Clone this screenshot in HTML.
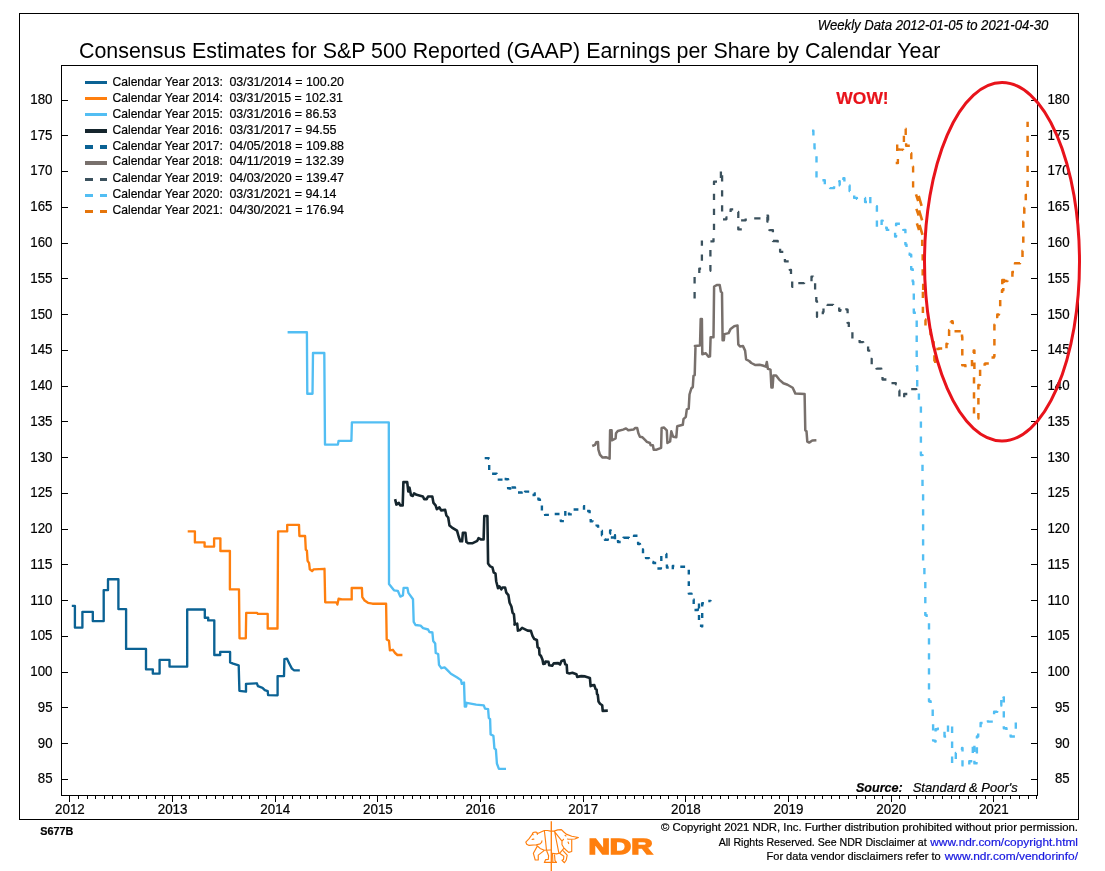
<!DOCTYPE html>
<html lang="en"><head><meta charset="utf-8"><title>Consensus Estimates for S&amp;P 500 Reported (GAAP) Earnings per Share by Calendar Year</title>
<style>html,body{margin:0;padding:0;background:#fff;}body{width:1105px;height:871px;overflow:hidden;}svg{display:block;}text{font-family:"Liberation Sans", sans-serif;fill:#000;stroke:#000;stroke-width:0.2px;}</style></head><body>
<svg width="1105" height="871" viewBox="0 0 1105 871">
<rect x="0" y="0" width="1105" height="871" fill="#ffffff"/>
<rect x="19.5" y="13.5" width="1059.0" height="806.0" fill="none" stroke="#000" stroke-width="1" shape-rendering="crispEdges"/>
<rect x="61.5" y="65.5" width="976.0" height="730.0" fill="none" stroke="#000" stroke-width="1" shape-rendering="crispEdges"/>
<path d="M62.0,779.5h6 M1037.0,779.5h-6 M62.0,743.5h6 M1037.0,743.5h-6 M62.0,707.5h6 M1037.0,707.5h-6 M62.0,672.5h6 M1037.0,672.5h-6 M62.0,636.5h6 M1037.0,636.5h-6 M62.0,600.5h6 M1037.0,600.5h-6 M62.0,564.5h6 M1037.0,564.5h-6 M62.0,529.5h6 M1037.0,529.5h-6 M62.0,493.5h6 M1037.0,493.5h-6 M62.0,457.5h6 M1037.0,457.5h-6 M62.0,421.5h6 M1037.0,421.5h-6 M62.0,386.5h6 M1037.0,386.5h-6 M62.0,350.5h6 M1037.0,350.5h-6 M62.0,314.5h6 M1037.0,314.5h-6 M62.0,278.5h6 M1037.0,278.5h-6 M62.0,243.5h6 M1037.0,243.5h-6 M62.0,207.5h6 M1037.0,207.5h-6 M62.0,171.5h6 M1037.0,171.5h-6 M62.0,135.5h6 M1037.0,135.5h-6 M62.0,100.5h6 M1037.0,100.5h-6" stroke="#000" stroke-width="1" fill="none" shape-rendering="crispEdges"/>
<g font-size="13.9px">
<text x="52.5" y="783.3" text-anchor="end" textLength="14.7" lengthAdjust="spacingAndGlyphs">85</text>
<text x="1069.6" y="783.3" text-anchor="end" textLength="14.7" lengthAdjust="spacingAndGlyphs">85</text>
<text x="52.5" y="747.5" text-anchor="end" textLength="14.7" lengthAdjust="spacingAndGlyphs">90</text>
<text x="1069.6" y="747.5" text-anchor="end" textLength="14.7" lengthAdjust="spacingAndGlyphs">90</text>
<text x="52.5" y="711.8" text-anchor="end" textLength="14.7" lengthAdjust="spacingAndGlyphs">95</text>
<text x="1069.6" y="711.8" text-anchor="end" textLength="14.7" lengthAdjust="spacingAndGlyphs">95</text>
<text x="52.5" y="676.0" text-anchor="end" textLength="22.2" lengthAdjust="spacingAndGlyphs">100</text>
<text x="1069.6" y="676.0" text-anchor="end" textLength="22.2" lengthAdjust="spacingAndGlyphs">100</text>
<text x="52.5" y="640.3" text-anchor="end" textLength="22.2" lengthAdjust="spacingAndGlyphs">105</text>
<text x="1069.6" y="640.3" text-anchor="end" textLength="22.2" lengthAdjust="spacingAndGlyphs">105</text>
<text x="52.5" y="604.5" text-anchor="end" textLength="22.2" lengthAdjust="spacingAndGlyphs">110</text>
<text x="1069.6" y="604.5" text-anchor="end" textLength="22.2" lengthAdjust="spacingAndGlyphs">110</text>
<text x="52.5" y="568.8" text-anchor="end" textLength="22.2" lengthAdjust="spacingAndGlyphs">115</text>
<text x="1069.6" y="568.8" text-anchor="end" textLength="22.2" lengthAdjust="spacingAndGlyphs">115</text>
<text x="52.5" y="533.0" text-anchor="end" textLength="22.2" lengthAdjust="spacingAndGlyphs">120</text>
<text x="1069.6" y="533.0" text-anchor="end" textLength="22.2" lengthAdjust="spacingAndGlyphs">120</text>
<text x="52.5" y="497.2" text-anchor="end" textLength="22.2" lengthAdjust="spacingAndGlyphs">125</text>
<text x="1069.6" y="497.2" text-anchor="end" textLength="22.2" lengthAdjust="spacingAndGlyphs">125</text>
<text x="52.5" y="461.5" text-anchor="end" textLength="22.2" lengthAdjust="spacingAndGlyphs">130</text>
<text x="1069.6" y="461.5" text-anchor="end" textLength="22.2" lengthAdjust="spacingAndGlyphs">130</text>
<text x="52.5" y="425.7" text-anchor="end" textLength="22.2" lengthAdjust="spacingAndGlyphs">135</text>
<text x="1069.6" y="425.7" text-anchor="end" textLength="22.2" lengthAdjust="spacingAndGlyphs">135</text>
<text x="52.5" y="390.0" text-anchor="end" textLength="22.2" lengthAdjust="spacingAndGlyphs">140</text>
<text x="1069.6" y="390.0" text-anchor="end" textLength="22.2" lengthAdjust="spacingAndGlyphs">140</text>
<text x="52.5" y="354.2" text-anchor="end" textLength="22.2" lengthAdjust="spacingAndGlyphs">145</text>
<text x="1069.6" y="354.2" text-anchor="end" textLength="22.2" lengthAdjust="spacingAndGlyphs">145</text>
<text x="52.5" y="318.5" text-anchor="end" textLength="22.2" lengthAdjust="spacingAndGlyphs">150</text>
<text x="1069.6" y="318.5" text-anchor="end" textLength="22.2" lengthAdjust="spacingAndGlyphs">150</text>
<text x="52.5" y="282.7" text-anchor="end" textLength="22.2" lengthAdjust="spacingAndGlyphs">155</text>
<text x="1069.6" y="282.7" text-anchor="end" textLength="22.2" lengthAdjust="spacingAndGlyphs">155</text>
<text x="52.5" y="246.9" text-anchor="end" textLength="22.2" lengthAdjust="spacingAndGlyphs">160</text>
<text x="1069.6" y="246.9" text-anchor="end" textLength="22.2" lengthAdjust="spacingAndGlyphs">160</text>
<text x="52.5" y="211.2" text-anchor="end" textLength="22.2" lengthAdjust="spacingAndGlyphs">165</text>
<text x="1069.6" y="211.2" text-anchor="end" textLength="22.2" lengthAdjust="spacingAndGlyphs">165</text>
<text x="52.5" y="175.4" text-anchor="end" textLength="22.2" lengthAdjust="spacingAndGlyphs">170</text>
<text x="1069.6" y="175.4" text-anchor="end" textLength="22.2" lengthAdjust="spacingAndGlyphs">170</text>
<text x="52.5" y="139.7" text-anchor="end" textLength="22.2" lengthAdjust="spacingAndGlyphs">175</text>
<text x="1069.6" y="139.7" text-anchor="end" textLength="22.2" lengthAdjust="spacingAndGlyphs">175</text>
<text x="52.5" y="103.9" text-anchor="end" textLength="22.2" lengthAdjust="spacingAndGlyphs">180</text>
<text x="1069.6" y="103.9" text-anchor="end" textLength="22.2" lengthAdjust="spacingAndGlyphs">180</text>
</g>
<path d="M69.5,796.0v6 M78.5,796.0v3 M87.5,796.0v3 M95.5,796.0v3 M104.5,796.0v3 M112.5,796.0v3 M121.5,796.0v3 M129.5,796.0v3 M138.5,796.0v3 M146.5,796.0v3 M155.5,796.0v3 M164.5,796.0v3 M172.5,796.0v6 M181.5,796.0v3 M189.5,796.0v3 M198.5,796.0v3 M206.5,796.0v3 M215.5,796.0v3 M223.5,796.0v3 M232.5,796.0v3 M241.5,796.0v3 M249.5,796.0v3 M258.5,796.0v3 M266.5,796.0v3 M275.5,796.0v6 M283.5,796.0v3 M292.5,796.0v3 M300.5,796.0v3 M309.5,796.0v3 M317.5,796.0v3 M326.5,796.0v3 M335.5,796.0v3 M343.5,796.0v3 M352.5,796.0v3 M360.5,796.0v3 M369.5,796.0v3 M377.5,796.0v6 M386.5,796.0v3 M394.5,796.0v3 M403.5,796.0v3 M412.5,796.0v3 M420.5,796.0v3 M429.5,796.0v3 M437.5,796.0v3 M446.5,796.0v3 M454.5,796.0v3 M463.5,796.0v3 M471.5,796.0v3 M480.5,796.0v6 M489.5,796.0v3 M497.5,796.0v3 M506.5,796.0v3 M514.5,796.0v3 M523.5,796.0v3 M531.5,796.0v3 M540.5,796.0v3 M548.5,796.0v3 M557.5,796.0v3 M566.5,796.0v3 M574.5,796.0v3 M583.5,796.0v6 M591.5,796.0v3 M600.5,796.0v3 M608.5,796.0v3 M617.5,796.0v3 M625.5,796.0v3 M634.5,796.0v3 M643.5,796.0v3 M651.5,796.0v3 M660.5,796.0v3 M668.5,796.0v3 M677.5,796.0v3 M685.5,796.0v6 M694.5,796.0v3 M702.5,796.0v3 M711.5,796.0v3 M720.5,796.0v3 M728.5,796.0v3 M737.5,796.0v3 M745.5,796.0v3 M754.5,796.0v3 M762.5,796.0v3 M771.5,796.0v3 M779.5,796.0v3 M788.5,796.0v6 M797.5,796.0v3 M805.5,796.0v3 M814.5,796.0v3 M822.5,796.0v3 M831.5,796.0v3 M839.5,796.0v3 M848.5,796.0v3 M856.5,796.0v3 M865.5,796.0v3 M874.5,796.0v3 M882.5,796.0v3 M891.5,796.0v6 M899.5,796.0v3 M908.5,796.0v3 M916.5,796.0v3 M925.5,796.0v3 M933.5,796.0v3 M942.5,796.0v3 M951.5,796.0v3 M959.5,796.0v3 M968.5,796.0v3 M976.5,796.0v3 M985.5,796.0v3 M993.5,796.0v6 M1002.5,796.0v3 M1010.5,796.0v3 M1019.5,796.0v3 M1028.5,796.0v3 M1036.5,796.0v3" stroke="#000" stroke-width="1" fill="none" shape-rendering="crispEdges"/>
<g font-size="13.9px" text-anchor="middle">
<text x="69.9" y="814.1" textLength="29.8" lengthAdjust="spacingAndGlyphs">2012</text>
<text x="172.6" y="814.1" textLength="29.8" lengthAdjust="spacingAndGlyphs">2013</text>
<text x="275.2" y="814.1" textLength="29.8" lengthAdjust="spacingAndGlyphs">2014</text>
<text x="377.9" y="814.1" textLength="29.8" lengthAdjust="spacingAndGlyphs">2015</text>
<text x="480.5" y="814.1" textLength="29.8" lengthAdjust="spacingAndGlyphs">2016</text>
<text x="583.2" y="814.1" textLength="29.8" lengthAdjust="spacingAndGlyphs">2017</text>
<text x="685.9" y="814.1" textLength="29.8" lengthAdjust="spacingAndGlyphs">2018</text>
<text x="788.5" y="814.1" textLength="29.8" lengthAdjust="spacingAndGlyphs">2019</text>
<text x="891.2" y="814.1" textLength="29.8" lengthAdjust="spacingAndGlyphs">2020</text>
<text x="993.8" y="814.1" textLength="29.8" lengthAdjust="spacingAndGlyphs">2021</text>
</g>
<text x="79" y="57.8" font-size="22.8px" style="stroke-width:0" textLength="861.5" lengthAdjust="spacingAndGlyphs">Consensus Estimates for S&amp;P 500 Reported (GAAP) Earnings per Share by Calendar Year</text>
<text x="817.8" y="30.4" font-size="14px" font-style="italic" textLength="230.5" lengthAdjust="spacingAndGlyphs">Weekly Data 2012-01-05 to 2021-04-30</text>
<g font-size="12.8px">
<path d="M85,82.5h22" stroke="#0b6294" stroke-width="3" fill="none" shape-rendering="crispEdges"/>
<text x="112.5" y="85.8" textLength="110.3" lengthAdjust="spacingAndGlyphs">Calendar Year 2013:</text>
<text x="229.4" y="85.8" textLength="114.6" lengthAdjust="spacingAndGlyphs">03/31/2014 = 100.20</text>
<path d="M85,98.5h22" stroke="#ff7f0e" stroke-width="3" fill="none" shape-rendering="crispEdges"/>
<text x="112.5" y="101.8" textLength="110.3" lengthAdjust="spacingAndGlyphs">Calendar Year 2014:</text>
<text x="229.4" y="101.8" textLength="113.6" lengthAdjust="spacingAndGlyphs">03/31/2015 = 102.31</text>
<path d="M85,114.5h22" stroke="#52bef3" stroke-width="3" fill="none" shape-rendering="crispEdges"/>
<text x="112.5" y="117.8" textLength="110.3" lengthAdjust="spacingAndGlyphs">Calendar Year 2015:</text>
<text x="229.4" y="117.8" textLength="107.1" lengthAdjust="spacingAndGlyphs">03/31/2016 = 86.53</text>
<path d="M85,131.0h22" stroke="#15252d" stroke-width="4" fill="none" shape-rendering="crispEdges"/>
<text x="112.5" y="133.6" textLength="110.3" lengthAdjust="spacingAndGlyphs">Calendar Year 2016:</text>
<text x="229.4" y="133.6" textLength="107.1" lengthAdjust="spacingAndGlyphs">03/31/2017 = 94.55</text>
<path d="M85,147.0h8 M100,147.0h7" stroke="#0b6294" stroke-width="4" fill="none" shape-rendering="crispEdges"/>
<text x="112.5" y="149.5" textLength="110.3" lengthAdjust="spacingAndGlyphs">Calendar Year 2017:</text>
<text x="229.4" y="149.5" textLength="114.6" lengthAdjust="spacingAndGlyphs">04/05/2018 = 109.88</text>
<path d="M85,163.0h22" stroke="#78706c" stroke-width="4" fill="none" shape-rendering="crispEdges"/>
<text x="112.5" y="165.4" textLength="110.3" lengthAdjust="spacingAndGlyphs">Calendar Year 2018:</text>
<text x="229.4" y="165.4" textLength="114.6" lengthAdjust="spacingAndGlyphs">04/11/2019 = 132.39</text>
<path d="M85,179.5h8 M100,179.5h7" stroke="#3b515d" stroke-width="3" fill="none" shape-rendering="crispEdges"/>
<text x="112.5" y="182.2" textLength="110.3" lengthAdjust="spacingAndGlyphs">Calendar Year 2019:</text>
<text x="229.4" y="182.2" textLength="114.6" lengthAdjust="spacingAndGlyphs">04/03/2020 = 139.47</text>
<path d="M85,195.5h8 M100,195.5h7" stroke="#52bef3" stroke-width="3" fill="none" shape-rendering="crispEdges"/>
<text x="112.5" y="198.2" textLength="110.3" lengthAdjust="spacingAndGlyphs">Calendar Year 2020:</text>
<text x="229.4" y="198.2" textLength="107.1" lengthAdjust="spacingAndGlyphs">03/31/2021 = 94.14</text>
<path d="M85,211.5h8 M100,211.5h7" stroke="#e5750b" stroke-width="3" fill="none" shape-rendering="crispEdges"/>
<text x="112.5" y="214.2" textLength="110.3" lengthAdjust="spacingAndGlyphs">Calendar Year 2021:</text>
<text x="229.4" y="214.2" textLength="114.6" lengthAdjust="spacingAndGlyphs">04/30/2021 = 176.94</text>
</g>
<path d="M71.8,605.9 L74.9,605.9 L74.9,627.6 L82.4,627.6 L82.4,611.8 L92.8,611.8 L92.8,621.1 L103.7,621.1 L103.7,590.1 L108.0,590.1 L108.0,579.2 L118.4,579.2 L118.4,609.1 L126.1,609.1 L126.1,648.9 L146.0,648.9 L146.0,669.3 L152.8,669.3 L152.8,673.6 L159.6,673.6 L159.6,659.8 L169.5,659.8 L169.5,666.6 L187.2,666.6 L187.2,609.5 L204.8,609.5 L204.8,617.7 L208.2,617.7 L208.2,620.4 L214.3,620.4 L214.3,655.0 L220.2,655.0 L220.2,651.9 L230.1,651.9 L230.1,662.3 L233.1,663.6 L238.7,665.4 L239.4,690.8 L246.0,691.7 L246.0,683.8 L256.8,683.3 L258.0,686.2 L262.5,687.8 L264.8,690.1 L267.7,691.2 L268.1,695.1 L277.6,695.3 L277.6,676.1 L284.0,676.1 L284.4,659.1 L286.9,658.6 L289.0,662.9 L291.9,668.6 L294.2,670.4 L299.8,670.4" fill="none" stroke="#0b6294" stroke-width="2.35" stroke-linejoin="round"/>
<path d="M187.7,531.3 L194.9,531.3 L194.9,542.4 L204.6,542.4 L204.6,546.6 L214.1,546.6 L214.1,538.3 L220.4,538.3 L220.4,551.0 L229.9,551.0 L229.9,589.4 L239.0,589.4 L239.5,638.3 L245.8,638.3 L246.2,612.9 L257.1,612.9 L257.8,613.9 L267.7,613.9 L267.7,628.5 L277.5,628.5 L278.1,531.3 L287.2,531.3 L287.2,524.9 L299.0,524.9 L299.4,536.0 L305.1,536.0 L305.8,549.6 L306.9,550.7 L307.6,560.9 L309.1,563.2 L309.8,569.3 L312.1,571.1 L313.7,569.3 L324.5,568.8 L325.2,602.3 L336.3,602.3 L337.4,604.6 L338.6,598.7 L341.9,599.4 L351.7,599.4 L351.7,588.0 L361.9,588.0 L362.3,597.1 L364.6,600.5 L368.0,602.8 L372.5,603.7 L386.1,603.7 L386.7,639.4 L389.0,640.8 L389.9,650.3 L392.9,649.8 L395.1,653.0 L397.4,655.0 L402.4,655.0" fill="none" stroke="#ff7f0e" stroke-width="2.35" stroke-linejoin="round"/>
<path d="M287.6,332.2 L306.9,332.2 L307.3,393.7 L312.5,393.7 L313.0,353.0 L324.3,353.0 L325.0,444.6 L337.9,444.6 L338.6,440.8 L351.4,440.8 L351.9,422.4 L388.8,422.4 L389.0,560.0 L389.0,584.0 L394.0,590.3 L397.8,590.8 L400.3,596.6 L402.9,595.4 L403.6,587.8 L407.4,587.8 L408.4,592.9 L413.0,599.2 L413.7,621.9 L415.5,625.0 L420.6,625.7 L423.1,628.2 L428.1,629.5 L429.4,632.0 L432.4,632.5 L433.2,640.9 L435.2,643.4 L435.7,653.0 L438.2,654.0 L439.0,664.9 L441.3,668.2 L444.6,667.4 L448.4,671.2 L450.9,673.8 L457.2,677.5 L461.0,680.1 L461.8,683.9 L464.0,682.6 L464.8,706.6 L466.1,706.6 L466.6,702.8 L476.2,704.6 L483.8,705.4 L485.0,708.6 L488.1,709.1 L488.8,718.0 L490.1,719.2 L490.6,734.4 L493.4,735.7 L494.4,748.3 L495.9,749.6 L496.9,763.5 L498.9,768.8 L506.0,768.8" fill="none" stroke="#52bef3" stroke-width="2.35" stroke-linejoin="round"/>
<path d="M395.1,499.1 L396.4,504.6 L398.9,502.9 L400.2,505.4 L402.7,505.4 L403.4,482.1 L407.2,482.1 L408.3,491.5 L409.5,487.7 L411.0,495.3 L412.8,496.0 L414.1,493.3 L416.6,494.8 L422.9,496.5 L424.2,499.1 L426.7,499.1 L428.0,496.5 L432.3,496.5 L433.5,502.9 L435.6,505.4 L436.8,509.2 L439.4,507.4 L441.1,510.4 L445.2,509.9 L446.4,515.5 L448.2,517.5 L449.5,525.6 L452.0,527.6 L457.0,530.7 L458.8,537.0 L460.3,541.3 L462.1,541.3 L462.9,532.7 L465.4,532.7 L466.4,542.0 L468.4,543.3 L472.2,543.3 L477.3,540.8 L478.5,538.2 L481.1,539.5 L483.6,539.5 L484.3,516.0 L487.4,516.0 L488.1,563.5 L489.9,566.1 L492.4,567.3 L493.7,572.4 L495.5,573.6 L496.2,581.2 L498.0,588.3 L499.3,586.3 L501.3,589.3 L502.5,587.5 L505.1,587.5 L506.3,592.6 L508.4,595.1 L509.6,602.7 L511.4,606.5 L512.6,612.8 L513.9,614.1 L514.7,622.9 L514.5,624.6 L517.2,623.6 L517.9,630.6 L520.1,629.9 L522.1,627.9 L524.6,629.1 L527.6,630.6 L530.9,630.9 L532.5,635.8 L534.3,639.1 L536.9,640.0 L537.6,647.0 L539.1,648.5 L539.5,654.5 L541.0,656.0 L542.5,659.7 L543.3,663.9 L545.1,663.4 L545.5,661.5 L548.5,661.9 L549.2,665.2 L552.2,665.7 L553.7,663.4 L558.2,663.1 L560.0,664.5 L561.5,660.9 L564.2,660.1 L565.2,664.2 L566.7,664.9 L567.2,672.8 L569.4,673.4 L572.4,672.8 L576.4,674.2 L577.2,676.9 L581.3,676.1 L585.1,676.4 L589.9,677.9 L590.6,686.1 L592.1,685.4 L594.3,685.1 L595.5,688.8 L596.6,689.5 L597.0,694.0 L597.8,694.8 L598.5,701.5 L600.0,703.7 L602.2,705.2 L602.7,710.9 L607.8,710.6" fill="none" stroke="#15252d" stroke-width="2.6" stroke-linejoin="round"/>
<path d="M592.2,446.0 L595.1,444.8 L596.2,442.2 L598.0,441.9 L598.4,449.7 L599.9,454.6 L602.6,457.6 L605.9,457.2 L609.6,458.7 L610.1,430.3 L611.6,430.3 L611.9,440.3 L615.6,438.5 L616.0,433.3 L617.8,431.0 L623.1,429.6 L626.0,428.4 L628.3,430.3 L633.5,429.6 L635.0,428.1 L637.2,428.1 L638.4,433.3 L639.9,436.7 L642.5,437.3 L645.5,440.3 L646.9,441.8 L649.9,443.0 L650.7,445.2 L652.9,445.2 L653.7,449.7 L656.6,449.7 L661.1,447.8 L661.6,428.1 L664.1,427.6 L666.8,430.3 L667.4,443.0 L670.1,441.5 L671.3,431.3 L673.1,436.7 L676.3,437.3 L677.2,426.3 L682.8,424.8 L683.5,419.1 L685.8,416.9 L686.8,409.4 L688.7,408.7 L689.5,394.5 L691.3,388.5 L692.8,387.0 L693.5,375.8 L694.7,375.1 L695.5,346.0 L694.9,346.1 L700.0,345.4 L700.7,319.0 L701.9,319.0 L702.3,354.3 L705.8,353.3 L708.5,356.8 L710.0,356.4 L710.6,337.2 L713.5,337.2 L714.1,286.5 L717.2,284.9 L719.7,284.9 L720.9,291.7 L722.0,292.7 L722.6,340.3 L723.8,340.3 L724.4,334.1 L728.6,333.1 L730.6,328.9 L734.2,326.2 L737.5,325.4 L738.3,344.4 L740.0,346.5 L743.0,346.1 L745.1,350.6 L746.1,359.3 L749.2,361.0 L751.3,363.0 L755.5,365.1 L759.6,364.7 L762.7,365.5 L765.8,366.7 L766.8,362.0 L767.9,368.8 L770.5,369.6 L771.4,387.4 L772.6,387.4 L773.4,375.4 L776.1,375.4 L779.2,379.6 L783.4,383.3 L787.5,384.7 L792.7,387.8 L795.4,393.6 L804.6,394.0 L805.3,430.2 L806.5,431.2 L807.3,441.6 L809.2,442.6 L812.3,440.5 L816.4,440.3" fill="none" stroke="#78706c" stroke-width="2.5" stroke-linejoin="round"/>
<path d="M484.7,458.1 L488.7,458.1 L488.7,458.7 L489.2,458.7 L489.2,471.1 L491.1,471.1 L491.1,473.7 L496.6,473.7 L496.6,476.3 L497.7,476.3 L497.7,479.6 L503.1,479.6 L503.1,481.6 L504.1,481.6 L504.1,479.0 L506.0,479.0 L506.0,479.3 L508.1,479.3 L508.1,488.3 L510.1,488.3 L510.1,491.3 L510.8,491.3 L510.8,487.5 L514.5,487.5 L515.0,487.5 L515.0,492.5 L521.6,492.5 L521.6,494.6 L525.0,494.6 L525.0,491.6 L531.0,491.6 L531.0,495.0 L534.7,495.0 L534.7,493.5 L538.4,493.5 L538.4,499.5 L539.9,499.5 L539.9,505.4 L541.9,505.4 L541.9,512.9 L545.1,512.9 L545.1,514.9 L552.6,514.9 L552.6,514.0 L557.1,514.0 L560.8,514.0 L560.8,521.1 L564.2,521.1 L564.2,518.1 L565.3,518.1 L565.3,510.2 L568.7,510.2 L569.0,510.2 L569.0,514.4 L573.5,514.4 L573.5,509.5 L579.5,509.5 L579.5,510.2 L584.0,510.2 L584.0,506.2 L585.5,506.2 L585.5,510.4 L586.9,510.4 L586.9,511.0 L589.6,511.0 L589.6,516.6 L590.7,516.6 L590.7,521.4 L592.9,521.4 L592.9,521.9 L596.6,521.9 L596.6,525.6 L598.1,525.6 L598.1,530.8 L601.9,530.8 L601.9,535.3 L602.6,535.3 L602.6,539.3 L604.9,539.3 L604.9,539.8 L607.8,539.8 L607.8,533.8 L610.1,533.8 L610.1,530.4 L610.8,530.4 L610.8,537.5 L614.5,537.5 L614.5,542.0 L615.0,542.0 L615.0,535.3 L618.0,535.3 L618.0,542.0 L623.5,542.0 L623.5,537.8 L628.0,537.8 L628.0,538.3 L623.6,538.3 L623.6,537.6 L628.8,537.6 L628.8,538.1 L633.3,538.1 L633.3,538.4 L634.0,538.4 L634.0,535.7 L637.8,535.7 L638.1,535.7 L638.1,544.0 L640.0,544.0 L640.0,549.5 L643.0,549.5 L643.0,553.6 L645.5,553.6 L645.5,554.0 L646.0,554.0 L646.0,558.1 L649.0,558.1 L649.0,561.9 L653.4,561.9 L653.4,563.0 L657.2,563.0 L657.2,568.5 L660.9,568.5 L660.9,565.2 L661.3,565.2 L661.3,554.5 L665.4,554.5 L665.4,554.0 L666.4,554.0 L666.4,561.5 L666.9,561.5 L666.9,567.5 L670.6,567.5 L670.6,569.7 L672.8,569.7 L672.8,566.0 L678.8,566.0 L678.8,566.7 L685.5,566.7 L688.8,566.7 L688.8,567.5 L688.8,593.6 L691.5,593.6 L691.5,599.5 L693.7,599.5 L693.7,610.0 L697.8,610.0 L697.8,603.3 L699.0,603.3 L699.0,625.7 L701.9,625.7 L701.9,626.4 L702.2,626.4 L702.2,603.3 L707.2,603.3 L707.2,601.0 L710.6,601.0 L710.6,601.3" fill="none" stroke="#0b6294" stroke-width="2.4" stroke-linejoin="round" stroke-dasharray="4.8 6.7"/>
<path d="M694.6,298.4 L694.6,274.5 L699.3,274.5 L699.3,268.6 L701.9,268.6 L701.9,267.5 L701.9,240.5 M709.8,270.8 L710.4,270.8 L710.4,241.4 L713.5,241.4 L713.5,235.0 L714.0,235.0 L714.0,181.7 L718.5,181.7 L718.5,182.2 L720.9,182.2 L720.9,167.5 M722.1,175.2 L722.1,219.3 L726.4,219.3 L726.4,217.5 L730.6,217.5 L730.6,209.4 L733.2,209.4 M737.9,212.0 L738.3,212.0 L738.3,229.4 L742.4,229.4 M741.1,220.3 L745.7,220.3 L745.7,218.4 L765.9,218.4 L765.9,218.1 L765.9,215.7 L767.7,215.7 L768.1,215.7 L768.1,222.1 M766.9,216.9 L767.4,216.9 L767.4,221.7 L769.3,221.7 L769.3,230.1 L772.9,230.1 L772.9,241.0 L777.7,241.0 L777.7,243.4 L780.1,243.4 L780.1,251.8 L784.9,251.8 L784.9,261.4 L789.8,261.4 L789.8,269.9 L791.0,269.9 L791.0,274.7 L792.2,274.7 L792.2,286.8 L797.0,286.8 L797.0,283.1 L804.2,283.1 L804.2,281.9 L811.5,281.9 L811.5,276.6 L813.1,276.6 L813.1,281.9 L815.1,281.9 L815.1,290.4 L816.3,290.4 L816.3,301.2 L817.0,301.2 L817.0,316.9 L822.3,316.9 L822.3,317.4 L822.8,317.4 L822.8,312.1 L823.5,312.1 L823.5,304.1 L827.1,304.1 L827.1,304.8 L833.1,304.8 L833.1,306.0 L839.2,306.0 L839.2,310.8 L840.4,310.8 L840.4,307.2 L846.4,307.2 L846.4,309.6 L847.6,309.6 L847.6,322.9 L848.8,322.9 L848.8,330.1 L852.4,330.1 L852.4,338.6 L859.6,338.6 L859.6,342.2 L863.2,342.2 L863.2,344.6 L868.1,344.6 L868.1,350.6 L870.5,350.6 L870.5,359.0 L871.7,359.0 L871.7,365.1 L876.5,365.1 L876.5,368.7 L881.3,368.7 L881.3,372.3 L882.5,372.3 L882.5,379.5 L888.5,379.5 L888.5,383.1 L895.8,383.1 L895.8,384.3 L897.5,384.3 L897.5,390.4 L899.4,390.4 L899.4,398.8 L904.2,398.8 L904.2,394.0 L910.2,394.0 L910.2,389.2 L916.3,389.2 L916.3,389.9" fill="none" stroke="#3b515d" stroke-width="2.3" stroke-linejoin="round" stroke-dasharray="6.3 8.7"/>
<path d="M812.0,130.7 L813.4,130.7 L813.4,136.9 L814.5,136.9 L814.5,148.2 L816.1,148.2 L816.1,149.3 L816.5,149.3 L816.5,178.2 L820.7,178.2 L820.7,180.3 L824.8,180.3 L824.8,186.5 L830.0,186.5 L830.0,188.1 L834.1,188.1 L834.1,182.3 L839.3,182.3 L839.3,181.3 L839.7,181.3 L839.7,185.4 L843.4,185.4 L843.4,178.2 L844.4,178.2 L844.4,185.4 L849.6,185.4 L849.6,191.0 L854.2,191.0 L854.2,197.9 L856.9,197.9 L856.9,198.9 L864.1,198.9 L864.1,197.9 L865.1,197.9 L865.1,202.0 L869.2,202.0 L869.2,196.8 L870.3,196.8 L870.3,206.1 L876.5,206.1 L876.9,206.1 L876.9,213.4 L876.9,227.8 L881.6,227.8 L881.6,220.6 L882.7,220.6 L882.7,227.8 L886.8,227.8 L886.8,229.9 L895.1,229.9 L895.1,236.5 L896.1,236.5 L896.1,223.7 L902.3,223.7 L902.3,226.8 L903.4,226.8 L903.4,229.9 L905.4,229.9 L905.4,244.4 L906.5,244.4 L906.5,253.7 L909.6,253.7 L909.6,254.7 L911.2,254.7 L911.2,269.2 L912.7,269.2 L912.7,281.6 L913.3,281.6 L913.3,290.1 L913.8,290.1 L913.8,312.7 L916.4,312.7 L916.4,314.4 L916.7,314.4 L916.7,366.1 L917.2,366.1 L917.2,390.2 L918.9,390.2 L918.9,404.1 L920.9,404.1 L920.9,455.1 L922.5,455.1 L922.5,490.9 L923.1,490.9 L923.1,565.3 L924.4,565.3 L924.4,579.1 L925.3,579.1 L925.3,614.9 L926.6,614.9 L926.6,620.4 L928.5,620.4 L928.5,621.7 L929.0,621.7 L929.0,701.3 L930.6,701.3 L930.6,709.6 L932.7,709.6 L932.7,719.9 L933.1,719.9 L933.1,740.6 L935.1,740.6 L935.1,741.6 L935.6,741.6 L935.6,729.2 L937.6,729.2 L937.6,728.6 L943.4,728.6 L943.4,730.3 L944.5,730.3 L944.5,736.5 L947.1,736.5 L947.1,737.5 L948.0,737.5 L948.0,724.1 L950.7,724.1 L950.7,723.7 L952.1,723.7 L952.1,731.3 L952.1,763.4 L954.2,763.4 L955.8,763.4 L955.8,753.0 L957.9,753.0 L957.9,748.9 L962.0,748.9 L962.0,747.9 L962.5,747.9 L962.5,765.4 L964.5,765.4 L964.5,766.5 L969.3,766.5 L969.3,761.3 L972.4,761.3 L972.4,759.2 L972.8,759.2 L972.8,742.7 L974.4,742.7 L974.4,763.4 L976.5,763.4 L976.5,757.1 L976.9,757.1 L976.9,736.5 L978.2,736.5 L978.2,728.2 L980.6,728.2 L980.6,723.0 L982.7,723.0 L982.7,719.9 L987.9,719.9 L987.9,721.6 L993.0,721.6 L993.0,717.9 L994.1,717.9 L994.1,711.7 L997.2,711.7 L997.2,705.5 L1000.3,705.5 L1001.3,705.5 L1001.3,695.1 L1003.4,695.1 L1003.4,697.2 L1003.8,697.2 L1003.8,728.2 L1006.5,728.2 L1006.5,734.4 L1010.6,734.4 L1010.6,736.5 L1014.8,736.5 L1015.8,736.5 L1015.8,714.8" fill="none" stroke="#52bef3" stroke-width="2.4" stroke-linejoin="round" stroke-dasharray="6.3 8.7"/>
<path d="M895.7,163.0 L897.9,163.0 L897.9,157.8 L897.2,157.8 L897.2,142.8 L898.7,142.8 L898.7,149.6 L903.1,149.6 L903.1,150.0 L903.6,150.0 L903.6,145.1 L903.9,145.1 L903.9,130.9 L905.4,130.9 L905.4,128.7 L905.7,128.7 L905.7,137.6 L906.1,137.6 L906.1,145.8 L909.9,145.8 L909.9,146.6 L911.0,146.6 L911.0,153.3 L911.3,153.3 L911.3,160.8 L912.8,160.8 L912.8,166.7 L913.1,166.7 L913.1,187.6 L915.8,187.6 L915.8,193.6" fill="none" stroke="#e5750b" stroke-width="2.4" stroke-linejoin="round" stroke-dasharray="6.3 8.7"/>
<path d="M916.0,194.3 L918.2,201.0 M918.7,195.8 L921.6,205.8 M916.4,208.8 L918.7,215.5 M919.1,210.3 L922.1,220.3 M916.9,223.3 L919.1,230.0 M919.5,224.8 L922.5,234.8" fill="none" stroke="#e5750b" stroke-width="2.6" stroke-linejoin="round"/>
<path d="M921.5,234.2 L922.2,234.2 L922.2,246.9 L922.7,246.9 L922.7,279.7 L923.2,279.7 L923.2,290.1 L922.7,290.1 L922.7,286.9 L922.9,286.9 L922.9,319.6 L925.5,319.6 L925.5,326.5 L929.3,326.5 L929.3,328.2 L930.6,328.2 L930.6,342.0 L933.6,342.0 L933.6,348.9 L934.4,348.9 L934.4,366.1 L935.3,366.1 L935.3,348.9 L938.8,348.9 L938.8,348.5 L943.9,348.5 L943.9,350.6 L946.5,350.6 L946.5,343.7 L947.4,343.7 L947.4,336.8 L949.1,336.8 L949.1,329.9 L950.8,329.9 L950.8,322.2 L951.7,322.2 L951.7,321.3 L952.5,321.3 L952.5,323.1 L954.2,323.1 L954.2,331.3 L961.1,331.3 L961.1,329.1 L962.0,329.1 L962.0,336.8 L962.3,336.8 L962.3,365.2 L965.4,365.2 L965.4,367.8 L971.5,367.8 L972.0,367.8 L972.0,354.1 L973.7,354.1 L973.7,350.6 L974.4,350.6 L974.4,373.0 L974.0,373.0 L974.0,417.8 L976.6,417.8 L976.6,418.6 L978.4,418.6 L978.4,412.6 L978.4,385.1 L979.6,385.1 L979.6,383.3 L980.1,383.3 L980.1,364.4 L985.2,364.4 L985.2,363.5 L989.5,363.5 L989.5,357.5 L993.9,357.5 L993.9,356.6 L994.4,356.6 L994.4,324.8 L994.7,324.8 L994.7,317.0 L997.3,317.0 L997.3,314.4 L999.0,314.4 L999.0,307.6 L1000.2,307.6 L1000.2,298.9 L1002.0,298.9 L1002.0,290.3 L1003.3,290.3 L1003.3,285.2 L1004.2,285.2 L1004.2,280.0 L1002.3,280.0 L1002.3,287.3 L1003.6,287.3 L1003.6,281.0 L1007.4,281.0 L1007.4,277.2 L1012.4,277.2 L1012.4,272.1 L1015.0,272.1 L1015.0,263.3 L1020.0,263.3 L1020.0,260.8 L1022.5,260.8 L1022.5,250.7 L1023.3,250.7 L1023.3,221.6 L1024.3,221.6 L1024.3,207.7 L1025.8,207.7 L1025.8,195.1 L1027.1,195.1 L1027.1,191.3 L1027.6,191.3 L1027.6,121.8" fill="none" stroke="#e5750b" stroke-width="2.5" stroke-linejoin="round" stroke-dasharray="6.3 8.7" stroke-dashoffset="8.7"/>
<ellipse cx="1002" cy="261.75" rx="77.5" ry="179.2" fill="none" stroke="#e8131b" stroke-width="3"/>
<text x="836.3" y="103.7" font-size="17.4px" font-weight="bold" style="fill:#e8131b;stroke:#e8131b" textLength="52.4" lengthAdjust="spacingAndGlyphs">WOW!</text>
<text x="855.9" y="792.3" font-size="13.3px" font-weight="bold" font-style="italic" textLength="46.8" lengthAdjust="spacingAndGlyphs">Source:</text>
<text x="912.7" y="792.3" font-size="13.3px" font-style="italic" textLength="105.1" lengthAdjust="spacingAndGlyphs">Standard &amp; Poor's</text>
<text x="40.3" y="834.6" font-size="10.2px" font-weight="bold" textLength="33" lengthAdjust="spacingAndGlyphs">S677B</text>
<g font-size="10.9px">
<text x="661" y="830.9" textLength="417" lengthAdjust="spacingAndGlyphs">© Copyright 2021 NDR, Inc. Further distribution prohibited without prior permission.</text>
<text x="718.7" y="845.9" textLength="208" lengthAdjust="spacingAndGlyphs">All Rights Reserved. See NDR Disclaimer at</text>
<text x="930.3" y="845.9" style="fill:#1717e0;stroke:#1717e0" textLength="147.7" lengthAdjust="spacingAndGlyphs">www.ndr.com/copyright.html</text>
<text x="766.5" y="859.8" textLength="174.2" lengthAdjust="spacingAndGlyphs">For data vendor disclaimers refer to</text>
<text x="944.7" y="859.8" style="fill:#1717e0;stroke:#1717e0" textLength="133.3" lengthAdjust="spacingAndGlyphs">www.ndr.com/vendorinfo/</text>
</g>
<path d="M544.35,830.48 L537.65,833.52 L536.74,832.30 L535.22,832.00 L533.09,832.61 L531.87,834.74 L529.13,838.69 L525.78,842.04 L526.70,844.17 L529.13,845.39 L536.43,844.78 L540.09,843.87 L541.61,842.35 L541.91,840.82 M533.09,832.61 L532.48,834.13 L533.09,834.74 M536.74,832.30 L537.35,834.43 M532.17,839.42 L533.88,839.18 M536.43,844.78 L537.65,846.30 L540.09,848.43 L544.35,850.26 L550.43,849.95 M537.04,846.61 L533.39,853.30 L535.22,860.00 L538.26,860.00 L538.26,855.13 L543.74,850.87 M544.35,830.48 L545.56,841.13 L546.48,850.26 L548.61,855.74 L548.30,859.39 L545.56,859.69 L544.35,862.43 L556.52,862.43 L555.00,860.60 L554.39,853.61 M544.35,830.48 L547.39,830.48 L550.43,831.09 L554.08,831.09 L557.74,829.87 L561.39,829.56 L563.82,832.00 L566.26,834.13 L571.73,836.26 L578.43,837.48 L574.78,839.00 L568.69,839.30 L567.47,839.00 M571.73,839.91 L571.73,851.48 L568.69,852.39 L566.26,850.26 L563.82,847.82 L562.00,844.78 L562.00,841.13 L563.52,839.30 M565.04,835.35 L565.95,835.95 M568.08,842.04 L568.69,843.56 M554.08,831.09 L562.00,841.13 M554.69,832.00 L558.95,853.30 M552.26,853.30 L556.52,853.91 L559.56,853.30 L563.82,848.43 M559.56,853.30 L563.82,856.34 L563.52,859.39 L562.00,860.30 L564.43,862.74 L566.26,860.00 L567.17,855.13 L563.21,850.87 M552.56,853.91 L552.87,862.13" fill="none" stroke="#ff7f0e" stroke-width="1.15" stroke-linejoin="round" stroke-linecap="round"/>
<path d="M551.3,821.3V871" stroke="#ff7f0e" stroke-width="1.35" fill="none"/>
<text x="588.4" y="853.6" font-size="22.6px" font-weight="bold" style="fill:#ff7f0e;stroke:#ff7f0e;stroke-width:1.5px;stroke-linejoin:miter" textLength="64.2" lengthAdjust="spacingAndGlyphs">NDR</text>
</svg></body></html>
